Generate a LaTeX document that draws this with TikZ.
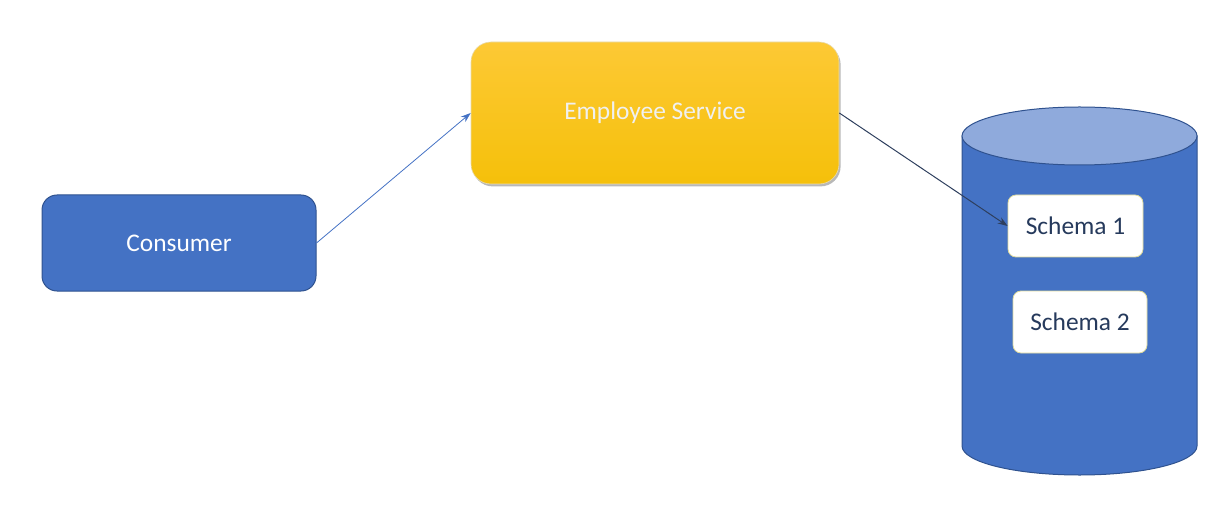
\documentclass[tikz,border=0pt]{standalone}
\usepackage{fontspec}
\setmainfont{Carlito}
\usetikzlibrary{arrows.meta,shadows}

\definecolor{boxblue}{HTML}{4472C4}
\definecolor{edgeblue}{HTML}{2F528F}
\definecolor{lidblue}{HTML}{8FAADC}
\definecolor{svctop}{HTML}{FDC935}
\definecolor{svcfill}{HTML}{F5C00A}
\definecolor{navytext}{HTML}{263A5C}
\definecolor{darkarrow}{HTML}{2E3F5E}

\tikzset{
  boxtext/.style={font=\fontsize{12.7}{15}\selectfont, inner sep=0pt, align=center},
  consumerbox/.style={boxtext, draw=edgeblue, line width=0.5pt, fill=boxblue, text=white,
    rounded corners=7.5pt, minimum width=137pt, minimum height=48pt},
  servicebox/.style={boxtext, top color=svctop, middle color=svcfill, bottom color=svcfill,
    draw=svcfill!60!gray!40, line width=0.3pt, text=white!88!gray, rounded corners=10pt,
    minimum width=184pt, minimum height=71pt,
    drop shadow={shadow xshift=0.8pt, shadow yshift=-1.2pt, fill=gray!70, opacity=0.8}},
  schemabox/.style={boxtext, fill=white, draw=olive!30, line width=0.4pt, text=navytext,
    rounded corners=4pt, minimum height=31pt},
  link/.style={-{Stealth[length=5pt,width=3.5pt]}}
}

\begin{document}
\begin{tikzpicture}[x=0.5pt,y=-0.5pt]
    \useasboundingbox (0,0) rectangle (1218,507);
    % database
    \path[draw=edgeblue,fill=boxblue,line width=0.5pt](962,136) -- (962,446)
        arc[start angle=180,end angle=0,x radius=117.5,y radius=29] -- (1197,136) -- cycle;
    \path[draw=edgeblue,fill=lidblue,line width=0.5pt](1079.5,136) ellipse[x radius=117.5,y radius=29];

    % boxes
    \node[consumerbox] (consumer) at (179,243) {Consumer};
    \node[servicebox] (service) at (655,113) {Employee Service};
    \node[schemabox, minimum width=67.5pt] (schema1) at (1075.5,226) {Schema 1};
    \node[schemabox, minimum width=67pt] (schema2) at (1080,322) {Schema 2};

    % calls
    \draw[link,color=boxblue,line width=0.4pt] (consumer.east) -- (service.west);
    \draw[link,color=darkarrow,line width=0.5pt] (service.east) -- (schema1.west);
\end{tikzpicture}
\end{document}
